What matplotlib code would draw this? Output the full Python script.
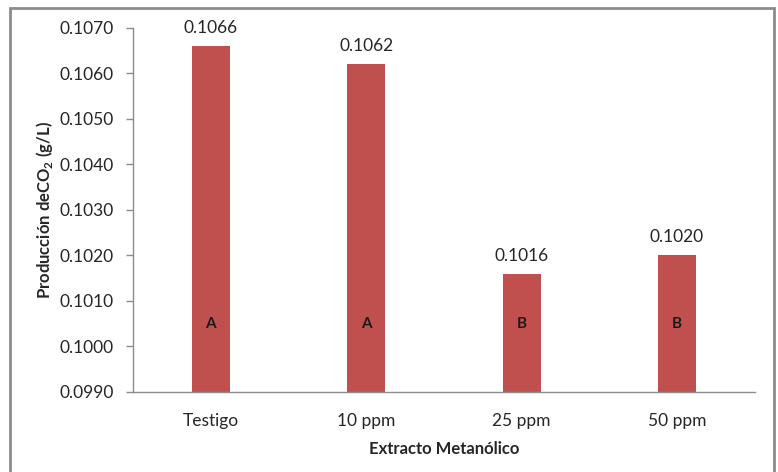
import matplotlib
matplotlib.use("Agg")
import matplotlib.pyplot as plt
from matplotlib.patches import Rectangle

# tratamientos y produccion media de CO2
tratamientos = ["Testigo", "10 ppm", "25 ppm", "50 ppm"]
produccion = [0.1066, 0.1062, 0.1016, 0.1020]
grupos = ["A", "A", "B", "B"]
yticks = [0.0990, 0.1000, 0.1010, 0.1020, 0.1030, 0.1040, 0.1050, 0.1060, 0.1070]

plt.rcParams['font.family'] = ['Lato', 'DejaVu Sans']
plt.rcParams['mathtext.fontset'] = 'custom'
plt.rcParams['mathtext.rm'] = 'Lato'
plt.rcParams['mathtext.bf'] = 'Lato:bold'

color_barra = '#C0504D'
gris = '#8C8C8C'
texto = '#262626'

fig = plt.figure(figsize=(7.78, 4.72), dpi=100)
ax = fig.add_axes([0.171, 0.1695, 0.799, 0.7712])

x = list(range(len(tratamientos)))
ax.bar(x, produccion, width=0.245, color=color_barra, zorder=2, bottom=0)

for xi, v, g in zip(x, produccion, grupos):
    ax.text(xi, v + 0.00022, f"{v:.4f}", ha='center', va='bottom',
            fontsize=12.5, color=texto)
    ax.text(xi, 0.1005, g, ha='center', va='center', fontsize=11,
            fontweight='bold', color='#1a1a1a')

ax.set_xlim(-0.5, 3.5)
ax.set_ylim(0.0990, 0.1070)
ax.set_yticks(yticks)
ax.set_yticklabels([f"{t:.4f}" for t in yticks])
ax.set_xticks(x)
ax.set_xticklabels(tratamientos)

ax.tick_params(axis='y', length=5, width=1, color=gris, labelsize=12.5,
               labelcolor=texto, pad=9)
ax.tick_params(axis='x', length=0, labelsize=12.5, labelcolor=texto, pad=15)

for lado in ['top', 'right']:
    ax.spines[lado].set_visible(False)
for lado in ['left', 'bottom']:
    ax.spines[lado].set_color(gris)
    ax.spines[lado].set_linewidth(1)

ax.set_xlabel("Extracto Metanólico", fontsize=12, fontweight='bold',
              color=texto, labelpad=9)
ax.set_ylabel(r"Producción deCO$_\mathbf{2}$ (g/L)", fontsize=12,
              fontweight='bold', color=texto, labelpad=3)

# marco exterior del grafico
marco = Rectangle((10 / 778, -0.02), 764 / 778, 1 - 8 / 472 + 0.02,
                  transform=fig.transFigure, fill=False, edgecolor=gris,
                  linewidth=2, clip_on=False)
fig.add_artist(marco)

fig.savefig("out.png", dpi=100)
